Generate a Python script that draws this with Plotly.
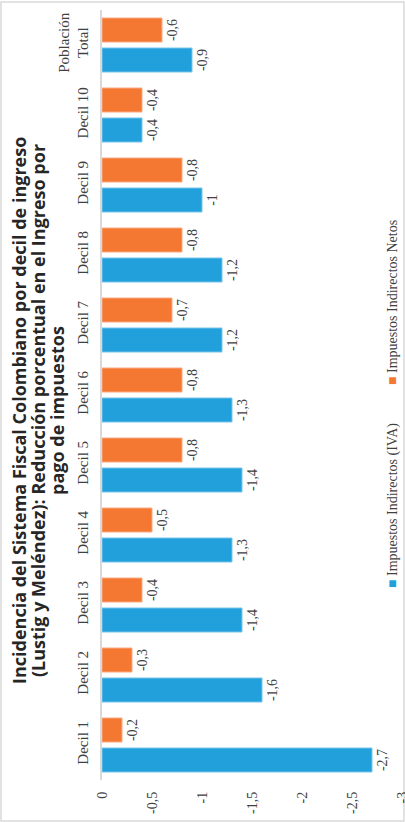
import plotly.graph_objects as go

# data
categorias = ['Decil 1', 'Decil 2', 'Decil 3', 'Decil 4', 'Decil 5', 'Decil 6',
              'Decil 7', 'Decil 8', 'Decil 9', 'Decil 10', 'Población<br>Total']
iva = [-2.7, -1.6, -1.4, -1.3, -1.4, -1.3, -1.2, -1.2, -1.0, -0.4, -0.9]
netos = [-0.2, -0.3, -0.4, -0.5, -0.8, -0.8, -0.7, -0.8, -0.8, -0.4, -0.6]
x_ticks = [0, -0.5, -1, -1.5, -2, -2.5, -3]
x_tick_labels = ['0', '-0,5', '-1', '-1,5', '-2', '-2,5', '-3']

nombre_iva = 'Impuestos Indirectos (IVA)'
nombre_netos = 'Impuestos Indirectos Netos'
titulo = ['Incidencia del Sistema Fiscal Colombiano por decil de ingreso',
          '(Lustig y Meléndez): Reducción porcentual en el Ingreso por',
          'pago de impuestos']


def dict_cols():
    return {
        'blue': 'rgb(33,160,219)',
        'blue_line': 'rgb(120,195,235)',
        'orange': 'rgb(244,119,50)',
        'orange_line': 'rgb(250,170,130)',
        'text': 'rgb(64,64,64)',
        'axis': 'rgb(217,217,217)',
    }


def fmt(v):
    return f'{v:g}'.replace('.', ',')


W, H = 405, 822
M = dict(l=102, r=3, t=10, b=42)
serif = 'Liberation Serif'

fig = go.Figure()

for vals, name, col, line in [(iva, nombre_iva, 'blue', 'blue_line'),
                               (netos, nombre_netos, 'orange', 'orange_line')]:
    fig.add_trace(
        go.Bar(
            y=categorias,
            x=vals,
            name=name,
            orientation='h',
            marker=dict(color=dict_cols()[col],
                        line=dict(color=dict_cols()[line], width=1)),
            text=[fmt(v) for v in vals],
            textposition='outside',
            textangle=-90,
            constraintext='none',
            cliponaxis=False,
            textfont=dict(family=serif, size=14, color=dict_cols()['text']),
        )
    )

fig.update_xaxes(
    range=[0, -3],
    tickvals=x_ticks,
    ticktext=x_tick_labels,
    tickangle=-90,
    showgrid=False,
    zeroline=False,
    showline=False,
    ticks='',
    automargin=False,
    ticklabeloverflow='allow',
    ticklabelstandoff=8,
    tickfont=dict(family=serif, size=14, color=dict_cols()['text']),
)

fig.update_yaxes(
    type='category',
    categoryorder='array',
    categoryarray=categorias,
    range=[-0.5, len(categorias) - 0.5],
    showline=True,
    linecolor=dict_cols()['axis'],
    linewidth=1.5,
    showgrid=False,
    zeroline=False,
    ticks='',
    tickangle=-90,
    automargin=False,
    ticklabelstandoff=6,
    tickfont=dict(family=serif, size=15, color=dict_cols()['text']),
)

pw = W - M['l'] - M['r']
ph = H - M['t'] - M['b']


def px_x(x):
    return (x - M['l']) / pw


def px_y(y):
    return 1 - (y - M['t']) / ph


anns = []
for i, linea in enumerate(titulo):
    anns.append(dict(text='<b>' + linea + '</b>', x=px_x(19 + 19 * i), y=px_y(411),
                     font=dict(family='Open Sans', size=18, color='rgb(38,38,38)')))
anns += [
    dict(text=f"<span style='color:{dict_cols()['blue']}'>■</span> " + nombre_iva,
         x=px_x(393), y=px_y(506),
         font=dict(family=serif, size=14, color=dict_cols()['text'])),
    dict(text=f"<span style='color:{dict_cols()['orange']}'>■</span> " + nombre_netos,
         x=px_x(393), y=px_y(303),
         font=dict(family=serif, size=14, color=dict_cols()['text'])),
]
for a in anns:
    a.update(xref='paper', yref='paper', showarrow=False, textangle=-90,
             xanchor='center', yanchor='middle', align='center')

fig.update_layout(
    width=W,
    height=H,
    margin=M,
    barmode='group',
    bargap=0.143,
    bargroupgap=0.2,
    showlegend=False,
    plot_bgcolor='white',
    paper_bgcolor='white',
    annotations=anns,
    shapes=[dict(type='rect', xref='paper', yref='paper',
                 x0=px_x(1), x1=px_x(W - 1), y0=px_y(H - 1), y1=px_y(2),
                 line=dict(color=dict_cols()['axis'], width=1.5), layer='below')],
)

# the page's default body margin would shift the chart by 8 px
fig.write_html('out.html', config={'displayModeBar': False},
               post_script="document.body.style.margin='0';")
